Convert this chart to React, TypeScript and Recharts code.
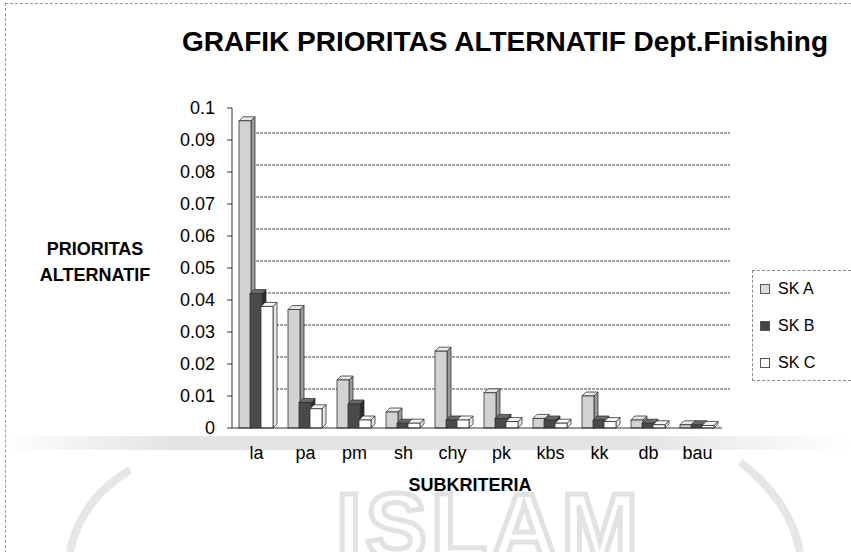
import React from 'react';
import { BarChart, Bar, XAxis, YAxis, CartesianGrid } from 'recharts';

const categories = ['la', 'pa', 'pm', 'sh', 'chy', 'pk', 'kbs', 'kk', 'db', 'bau'];
const skA = [0.096, 0.037, 0.015, 0.005, 0.024, 0.011, 0.003, 0.01, 0.0025, 0.001];
const skB = [0.042, 0.008, 0.0075, 0.0015, 0.0025, 0.003, 0.0025, 0.0025, 0.0015, 0.001];
const skC = [0.038, 0.006, 0.0025, 0.0015, 0.0025, 0.002, 0.0015, 0.002, 0.001, 0.0008];
const yTicks = [0, 0.01, 0.02, 0.03, 0.04, 0.05, 0.06, 0.07, 0.08, 0.09, 0.1];
const seriesNames = ['SK A', 'SK B', 'SK C'];

const data = categories.map((c, i) => ({ name: c, a: skA[i], b: skB[i], c: skC[i] }));

const FONT = 'Arial, "Liberation Sans", sans-serif';
const DEPTH = 4;

const colors = {
  a: { fill: '#d2d2d2', side: '#9a9a9a', top: '#e8e8e8' },
  b: { fill: '#4a4a4a', side: '#2a2a2a', top: '#6a6a6a' },
  c: { fill: '#ffffff', side: '#e8e8e8', top: '#f6f6f6' },
};

const makeShape = (k: 'a' | 'b' | 'c') => (props: any) => {
  const { x, y, width, height } = props;
  if (height == null || width == null) return <g />;
  const col = colors[k];
  const w = width;
  const h = Math.max(height, 0);
  const d = DEPTH;
  return (
    <g stroke="#333" strokeWidth={0.8}>
      <polygon points={`${x + w},${y} ${x + w + d},${y - d} ${x + w + d},${y + h - d} ${x + w},${y + h}`} fill={col.side} />
      <polygon points={`${x},${y} ${x + d},${y - d} ${x + w + d},${y - d} ${x + w},${y}`} fill={col.top} />
      <rect x={x} y={y} width={w} height={h} fill={col.fill} />
    </g>
  );
};

const gridLine = (p: any) => {
  const { x1, x2, y1 } = p;
  if (y1 < 112 || y1 > 424) return <g key={p.key} />;
  return (
    <line
      key={p.key}
      x1={x1 + 8}
      x2={x2 + 8}
      y1={y1 - 7}
      y2={y1 - 7}
      stroke="#444"
      strokeWidth={1}
      strokeDasharray="3 1"
    />
  );
};

export default function App() {
  return (
    <div style={{ position: 'absolute', left: 0, top: 0, width: 851, height: 552, background: '#fff', overflow: 'hidden' }}>
      <div style={{ position: 'absolute', left: 5, top: 3, width: 846, height: 549, borderTop: '1px dashed #999', borderLeft: '1px dashed #999' }} />
      <div style={{ position: 'absolute', left: 0, width: 851, top: 436, height: 14, background: 'linear-gradient(90deg, rgba(225,225,225,0) 0%, #e4e4e4 20%, #e4e4e4 75%, rgba(225,225,225,0) 100%)' }} />
      <svg width={851} height={552} style={{ position: 'absolute', left: 0, top: 0 }}>
        <path d="M 70 552 Q 80 500 130 470" fill="none" stroke="#e6e6e6" strokeWidth={8} />
        <path d="M 740 462 Q 790 500 800 552" fill="none" stroke="#e6e6e6" strokeWidth={8} />
      </svg>
      <div
        style={{
          position: 'absolute',
          left: 336,
          top: 474,
          fontFamily: FONT,
          fontSize: 92,
          fontWeight: 'bold',
          color: 'transparent',
          WebkitTextStroke: '5px #e2e2e2',
          letterSpacing: 4,
        }}
      >
        ISLAM
      </div>
      <div
        style={{
          position: 'absolute',
          left: 180,
          width: 650,
          top: 26,
          textAlign: 'center',
          fontFamily: FONT,
          fontSize: 28,
          fontWeight: 'bold',
          whiteSpace: 'nowrap',
        }}
      >
        GRAFIK PRIORITAS ALTERNATIF Dept.Finishing
      </div>
      <div
        style={{
          position: 'absolute',
          left: 20,
          width: 150,
          top: 236,
          textAlign: 'center',
          fontFamily: FONT,
          fontSize: 18,
          fontWeight: 'bold',
          lineHeight: '26px',
        }}
      >
        PRIORITAS
        <br />
        ALTERNATIF
      </div>
      <div style={{ position: 'absolute', left: 0, top: 0 }}>
        <BarChart
          width={851}
          height={552}
          data={data}
          margin={{ top: 108, right: 129, bottom: 94, left: 0 }}
          barCategoryGap={7}
          barGap={-1}
        >
          <CartesianGrid vertical={false} horizontal={gridLine} />
          <XAxis
            dataKey="name"
            interval={0}
            height={30}
            tickLine={false}
            axisLine={{ stroke: '#333' }}
            tick={{ fontFamily: FONT, fontSize: 18, fill: '#000' }}
            tickMargin={12}
          />
          <YAxis
            width={232}
            domain={[0, 0.1]}
            ticks={yTicks}
            interval={0}
            tickFormatter={(v: number) => String(+v.toFixed(2))}
            tick={{ fontFamily: FONT, fontSize: 18, fill: '#000' }}
            tickSize={5}
            tickMargin={12}
            axisLine={{ stroke: '#333' }}
            tickLine={{ stroke: '#333' }}
          />
          <Bar dataKey="a" name="SK A" isAnimationActive={false} shape={makeShape('a')} />
          <Bar dataKey="b" name="SK B" isAnimationActive={false} shape={makeShape('b')} />
          <Bar dataKey="c" name="SK C" isAnimationActive={false} shape={makeShape('c')} />
        </BarChart>
      </div>
      <div
        style={{
          position: 'absolute',
          left: 370,
          width: 200,
          top: 475,
          textAlign: 'center',
          fontFamily: FONT,
          fontSize: 18,
          fontWeight: 'bold',
        }}
      >
        SUBKRITERIA
      </div>
      <div
        style={{
          position: 'absolute',
          left: 752,
          top: 270,
          width: 99,
          border: '1px dashed #888',
          borderRight: 'none',
          padding: '0 0 0 7px',
          boxSizing: 'border-box',
          fontFamily: FONT,
          fontSize: 16,
          color: '#000',
        }}
      >
        {seriesNames.map((n, i) => (
          <div key={n} style={{ display: 'flex', alignItems: 'center', height: 35, marginTop: i === 0 ? 0 : 2 }}>
            <span
              style={{
                display: 'inline-block',
                width: 8,
                height: 8,
                marginRight: 8,
                border: '1px solid #555',
                background: i === 0 ? '#dcdcdc' : i === 1 ? '#444' : '#fff',
              }}
            />
            {n}
          </div>
        ))}
      </div>
    </div>
  );
}
